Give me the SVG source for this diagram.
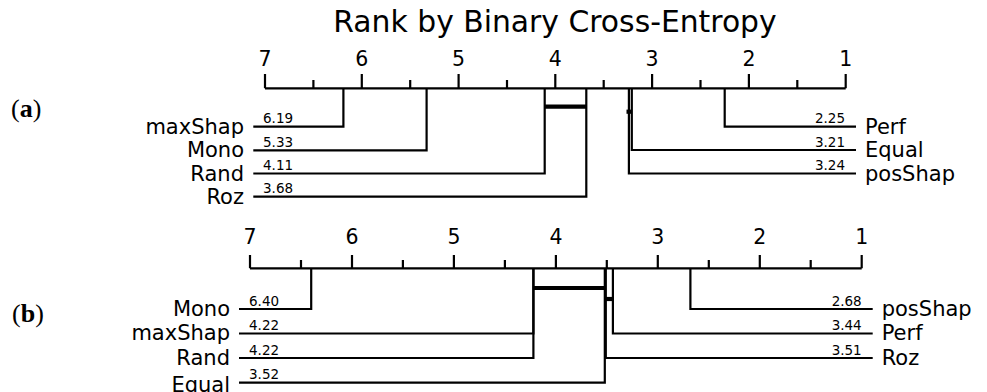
<svg xmlns="http://www.w3.org/2000/svg" width="987" height="392" viewBox="0 0 987 392">
<style>
  text { font-family: "DejaVu Sans", "Liberation Sans", sans-serif; fill: #000; }
  .title { font-size: 29.8px; text-anchor: middle; }
  .tick { font-size: 20.5px; text-anchor: middle; }
  .name { font-size: 21px; }
  .val { font-size: 13.5px; }
  .end { text-anchor: end; }
  .sub { font-family: "Liberation Serif", "Times New Roman", serif; font-size: 26px; }
  .ax { stroke: #000; stroke-width: 2.2; fill: none; }
  .ln { stroke: #000; stroke-width: 2.2; fill: none; }
  .clq { stroke: #000; stroke-width: 4.2; fill: none; }
</style>
<rect width="987" height="392" fill="#fff"/>

<text class="title" x="555" y="32">Rank by Binary Cross-Entropy</text>

<text class="sub" x="11" y="116.5">(<tspan font-weight="bold">a</tspan>)</text>
<text class="sub" x="12" y="321.5">(<tspan font-weight="bold">b</tspan>)</text>

<!-- Panel (a) axis -->
<g id="axis-a">
  <path class="ax" d="M265 88.3 H845.7 M265 88.3 V74 M361.8 88.3 V74 M458.6 88.3 V74 M555.3 88.3 V74 M652.1 88.3 V74 M748.9 88.3 V74 M845.7 88.3 V74 M313.4 88.3 V80 M410.2 88.3 V80 M507 88.3 V80 M603.7 88.3 V80 M700.5 88.3 V80 M797.3 88.3 V80"/>
  <text class="tick" x="265" y="65.5">7</text>
  <text class="tick" x="361.8" y="65.5">6</text>
  <text class="tick" x="458.6" y="65.5">5</text>
  <text class="tick" x="555.3" y="65.5">4</text>
  <text class="tick" x="652.1" y="65.5">3</text>
  <text class="tick" x="748.9" y="65.5">2</text>
  <text class="tick" x="845.7" y="65.5">1</text>
</g>

<g id="connectors-a">
  <path class="ln" d="M253.3 126.7 H343.4 V88.3"/>
  <path class="ln" d="M253.3 150.3 H426.6 V88.3"/>
  <path class="ln" d="M253.3 173.5 H544.7 V88.3"/>
  <path class="ln" d="M253.3 196.7 H586.3 V88.3"/>
  <path class="ln" d="M856 126.7 H724.7 V88.3"/>
  <path class="ln" d="M856 150 H631.8 V88.3"/>
  <path class="ln" d="M856 173.5 H628.9 V88.3"/>
  <path class="clq" d="M544.7 106.7 H586.3"/>
  <path class="clq" d="M626.5 111.7 H631.8"/>
</g>

<g id="node-a-maxShap"><text class="name end" x="244" y="133.7">maxShap</text><text class="val" x="263" y="123.3">6.19</text></g>
<g id="node-a-Mono"><text class="name end" x="244" y="157.3">Mono</text><text class="val" x="263" y="146.9">5.33</text></g>
<g id="node-a-Rand"><text class="name end" x="244" y="180.5">Rand</text><text class="val" x="263" y="170.1">4.11</text></g>
<g id="node-a-Roz"><text class="name end" x="244" y="203.7">Roz</text><text class="val" x="263" y="193.3">3.68</text></g>
<g id="node-a-Perf"><text class="name" x="865" y="133.7">Perf</text><text class="val end" x="845" y="123.3">2.25</text></g>
<g id="node-a-Equal"><text class="name" x="865" y="157">Equal</text><text class="val end" x="845" y="146.6">3.21</text></g>
<g id="node-a-posShap"><text class="name" x="865" y="180.5">posShap</text><text class="val end" x="845" y="170.1">3.24</text></g>

<!-- Panel (b) axis -->
<g id="axis-b">
  <path class="ax" d="M250 268.3 H861.7 M250 268.3 V255 M352 268.3 V255 M453.9 268.3 V255 M555.9 268.3 V255 M657.8 268.3 V255 M759.8 268.3 V255 M861.7 268.3 V255 M301 268.3 V260 M402.9 268.3 V260 M504.9 268.3 V260 M606.8 268.3 V260 M708.8 268.3 V260 M810.7 268.3 V260"/>
  <text class="tick" x="250" y="243.5">7</text>
  <text class="tick" x="352" y="243.5">6</text>
  <text class="tick" x="453.9" y="243.5">5</text>
  <text class="tick" x="555.9" y="243.5">4</text>
  <text class="tick" x="657.8" y="243.5">3</text>
  <text class="tick" x="759.8" y="243.5">2</text>
  <text class="tick" x="861.7" y="243.5">1</text>
</g>

<g id="connectors-b">
  <path class="ln" d="M239 309 H311.2 V268.3"/>
  <path class="ln" d="M239 333.5 H533.4 V268.3"/>
  <path class="ln" d="M239 358 H533.4 V268.3"/>
  <path class="ln" d="M239 382.7 H604.8 V268.3"/>
  <path class="ln" d="M872.7 309 H690.4 V268.3"/>
  <path class="ln" d="M872.7 333.5 H612.9 V268.3"/>
  <path class="ln" d="M872.7 358 H605.8 V268.3"/>
  <path class="clq" d="M533.4 288 H604.8"/>
  <path class="clq" d="M604.8 299 H612.9"/>
</g>

<g id="node-b-Mono"><text class="name end" x="230" y="315.5">Mono</text><text class="val" x="249" y="305.6">6.40</text></g>
<g id="node-b-maxShap"><text class="name end" x="230" y="340">maxShap</text><text class="val" x="249" y="330.1">4.22</text></g>
<g id="node-b-Rand"><text class="name end" x="230" y="364.5">Rand</text><text class="val" x="249" y="354.6">4.22</text></g>
<g id="node-b-Equal"><text class="name end" x="230" y="391.5">Equal</text><text class="val" x="249" y="379.3">3.52</text></g>
<g id="node-b-posShap"><text class="name" x="881.7" y="315.5">posShap</text><text class="val end" x="861.7" y="305.6">2.68</text></g>
<g id="node-b-Perf"><text class="name" x="881.7" y="340">Perf</text><text class="val end" x="861.7" y="330.1">3.44</text></g>
<g id="node-b-Roz"><text class="name" x="881.7" y="364.5">Roz</text><text class="val end" x="861.7" y="354.6">3.51</text></g>
</svg>
